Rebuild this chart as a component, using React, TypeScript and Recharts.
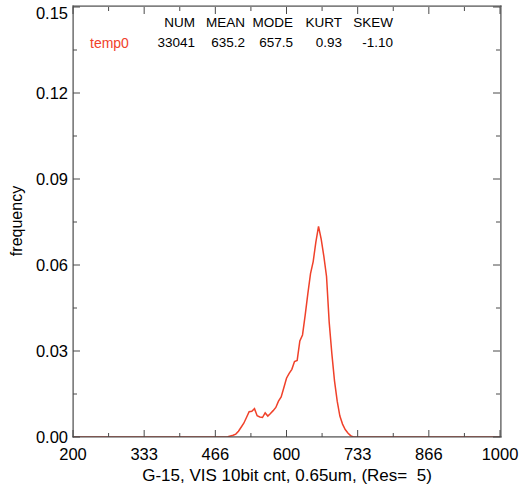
import React from "react";
import { LineChart, Line, XAxis, YAxis } from "recharts";

// histogram bins (Res = 5)
const binX = [
  200, 480, 490, 500, 505, 510, 515, 520, 525, 530, 535, 540, 545, 550, 555,
  560, 565, 570, 575, 580, 585, 590, 595, 600, 605, 610, 615, 620, 625, 630,
  635, 640, 645, 650, 655, 660, 665, 670, 675, 680, 685, 690, 695, 700, 705,
  710, 715, 720, 725, 1000,
];
const freq = [
  0, 0, 0.0001, 0.0006, 0.001, 0.002, 0.0034, 0.0048, 0.0068, 0.0088, 0.009,
  0.0099, 0.0074, 0.007, 0.0068, 0.0084, 0.0073, 0.0082, 0.0092, 0.0103,
  0.0125, 0.014, 0.0172, 0.0205, 0.0222, 0.0236, 0.0263, 0.0267, 0.0335,
  0.0356, 0.0425, 0.05, 0.057, 0.0612, 0.068, 0.0735, 0.069, 0.063, 0.056,
  0.04, 0.029, 0.0195, 0.0125, 0.0073, 0.0045, 0.0026, 0.0014, 0.0005, 0, 0,
];

const xMajor = [200, 333.33, 466.67, 600, 733.33, 866.67, 1000];
const xLabels = ["200", "333", "466", "600", "733", "866", "1000"];
const xMinor = [266.67, 400, 533.33, 666.67, 800, 933.33];

const yMajor = [0, 0.03, 0.06, 0.09, 0.12, 0.15];
const yLabels = ["0.00", "0.03", "0.06", "0.09", "0.12", "0.15"];
const yMinor = [0.015, 0.045, 0.075, 0.105, 0.135];

const seriesName = "temp0";
const statHeaders = ["NUM", "MEAN", "MODE", "KURT", "SKEW"];
const statValues = ["33041", "635.2", "657.5", "0.93", "-1.10"];

const data = binX.map((x, i) => ({ x, y: freq[i] }));

const FONT = '"Liberation Sans", Arial, Helvetica, sans-serif';
const AXIS = "#4a4a4a";
const RED = "#f0412a";

// chart size and plot margins
const W = 526;
const H = 487;
const M = { top: 6, right: 25, bottom: 50, left: 73 };
const PW = W - M.left - M.right;
const PH = H - M.top - M.bottom;

const labelFor = (vals: number[], labels: string[], v: number) => {
  const i = vals.findIndex((t) => Math.abs(t - v) < 1e-6);
  return i >= 0 ? labels[i] : null;
};

const XTick = (side: "bottom" | "top") => (props: any) => {
  const { x, y, payload } = props;
  const lab = labelFor(xMajor, xLabels, payload.value);
  const len = lab ? 7 : 4;
  const dir = side === "bottom" ? -1 : 1;
  return (
    <g>
      <path d={`M${x},${y}L${x},${y + dir * len}`} stroke={AXIS} strokeWidth={1} fill="none" />
      {side === "bottom" && lab && (
        <text x={x} y={y + 23} textAnchor="middle" fontSize={16.5} fontFamily={FONT} fill="#000">
          {lab}
        </text>
      )}
    </g>
  );
};

const YTick = (side: "left" | "right") => (props: any) => {
  const { x, y, payload, index } = props;
  const lab = labelFor(yMajor, yLabels, payload.value);
  const len = lab ? 7 : 4;
  const dir = side === "left" ? 1 : -1;
  // keep the top label inside the page
  const ty = Math.max(y, M.top + 6.5);
  return (
    <g>
      {side === "left" && index === 0 && (
        // box around the plot area, anchored at the bottom-left tick (four thin filled bars)
        <g fill={AXIS} stroke="none">
          <rect x={x - 0.5} y={y - PH - 0.5} width={1.2} height={PH + 1} />
          <rect x={x + PW - 0.7} y={y - PH - 0.5} width={1.2} height={PH + 1} />
          <rect x={x - 0.5} y={y - PH - 0.5} width={PW + 1} height={1.2} />
          <rect x={x - 0.5} y={y - 0.7} width={PW + 1} height={1.2} />
        </g>
      )}
      <path d={`M${x},${y}L${x + dir * len},${y}`} stroke={AXIS} strokeWidth={1} fill="none" />
      {side === "left" && lab && (
        <text x={x - 5} y={ty + 6} textAnchor="end" fontSize={16.5} fontFamily={FONT} fill="#000">
          {lab}
        </text>
      )}
    </g>
  );
};

const xTicks = [...xMajor, ...xMinor].sort((a, b) => a - b);
const yTicks = [...yMajor, ...yMinor].sort((a, b) => a - b);

const statCols = [195, 245, 293, 342, 393];

export default function App() {
  return (
    <div style={{ position: "absolute", left: 0, top: 0, width: W, height: H, background: "#fff", fontFamily: FONT }}>
      <LineChart width={W} height={H} data={data} margin={{ top: M.top, right: M.right, bottom: 0, left: 0 }}>
        <XAxis
          dataKey="x"
          type="number"
          domain={[200, 1000]}
          ticks={xTicks}
          interval={0}
          height={M.bottom}
          tickSize={0}
          tickMargin={0}
          axisLine={false}
          tickLine={false}
          tick={XTick("bottom")}
          allowDataOverflow
        />
        <XAxis
          xAxisId="top"
          orientation="top"
          dataKey="x"
          type="number"
          domain={[200, 1000]}
          ticks={xTicks}
          interval={0}
          height={1}
          tickSize={0}
          tickMargin={0}
          axisLine={false}
          tickLine={false}
          tick={XTick("top")}
          allowDataOverflow
        />
        <YAxis
          type="number"
          domain={[0, 0.15]}
          ticks={yTicks}
          interval={0}
          width={M.left}
          tickSize={0}
          tickMargin={0}
          axisLine={false}
          tickLine={false}
          tick={YTick("left")}
          allowDataOverflow
        />
        <YAxis
          yAxisId="right"
          orientation="right"
          type="number"
          domain={[0, 0.15]}
          ticks={yTicks}
          interval={0}
          width={1}
          tickSize={0}
          tickMargin={0}
          axisLine={false}
          tickLine={false}
          tick={YTick("right")}
          allowDataOverflow
        />
        <Line
          type="linear"
          dataKey="y"
          stroke={RED}
          strokeWidth={1.5}
          dot={false}
          isAnimationActive={false}
        />
      </LineChart>

      {statHeaders.map((h, i) => (
        <div key={h} style={{ position: "absolute", right: W - statCols[i], top: 15, fontSize: 13.5, color: "#000" }}>
          {h}
        </div>
      ))}
      <div style={{ position: "absolute", left: 90, top: 35, fontSize: 14, color: RED }}>{seriesName}</div>
      {statValues.map((v, i) => (
        <div key={i} style={{ position: "absolute", right: W - statCols[i], top: 35, fontSize: 13.5, color: "#000" }}>
          {v}
        </div>
      ))}

      <div style={{ position: "absolute", left: M.left, width: PW, top: 466, textAlign: "center", fontSize: 17, color: "#000" }}>
        G-15, VIS 10bit cnt, 0.65um, (Res=&nbsp; 5)
      </div>
      <div
        style={{
          position: "absolute",
          left: 17,
          top: 221,
          transform: "translate(-50%, -50%) rotate(-90deg)",
          fontSize: 16,
          color: "#000",
          whiteSpace: "nowrap",
        }}
      >
        frequency
      </div>
    </div>
  );
}
